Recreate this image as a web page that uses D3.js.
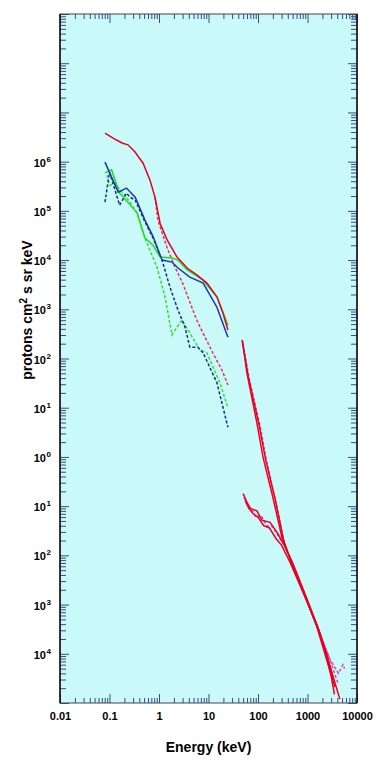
<!DOCTYPE html>
<html>
<head>
<meta charset="utf-8">
<script src="https://cdn.jsdelivr.net/npm/d3@7"></script>
<style>
  body { margin: 0; background: #fff; }
  svg { display: block; font-family: 'Liberation Sans', Arial, sans-serif; }
</style>
</head>
<body>
<svg width="382" height="768"></svg>
<script>
// axis ticks
let xTickValues = [0.01, 0.1, 1, 10, 100, 1000, 10000]
let xTickLabels = ['0.01', '0.1', '1', '10', '100', '1000', '10000']
let yLabelExponents = [6, 5, 4, 3, 2, 1, 0, -1, -2, -3, -4]

// low energy spectra (keV, flux)
let redSolidE = [0.081, 0.118, 0.179, 0.236, 0.328, 0.477, 0.658, 0.83, 1.05, 1.45, 2.31, 3.7, 5.8, 9.3, 14.9, 19.6, 24.7]
let redSolidV = [3.8e6, 3.0e6, 2.4e6, 2.2e6, 1.57e6, 9.3e5, 4.2e5, 1.9e5, 5.6e4, 2.6e4, 1.15e4, 6.9e3, 5.0e3, 3.4e3, 1.77e3, 840, 380]
let redDashE = [0.83, 0.95, 1.45, 2.1, 3.0, 4.2, 5.8, 8.5, 12.3, 18.7, 24.7]
let redDashV = [1.9e5, 6.5e4, 1.8e4, 7.2e3, 3.4e3, 1.4e3, 600, 272, 129, 58, 29]
let blueSolidE = [0.081, 0.15, 0.22, 0.33, 0.52, 0.76, 1.15, 1.83, 2.42, 4.2, 7.8, 14.8, 24.7]
let blueSolidV = [9.8e5, 2.4e5, 2.9e5, 1.9e5, 6.5e4, 3.0e4, 1.0e4, 9.1e3, 6.9e3, 4.5e3, 3.4e3, 1.1e3, 270]
let blueDashE = [0.081, 0.10, 0.16, 0.22, 0.26, 0.33, 0.52, 0.76, 1.15, 1.67, 2.42, 3.35, 4.2, 6.1, 7.8, 14.8, 24.7]
let blueDashV = [1.5e5, 6.1e5, 1.3e5, 2.3e5, 1.9e5, 1.65e5, 6.0e4, 2.8e4, 1.0e4, 2.8e3, 960, 435, 170, 170, 130, 32, 4.0]
let greenSolidE = [0.081, 0.11, 0.16, 0.236, 0.36, 0.52, 0.76, 1.05, 1.83, 2.42, 3.7, 7.8, 14.8, 24.7]
let greenSolidV = [5.9e5, 6.8e5, 2.3e5, 1.5e5, 9.1e4, 2.8e4, 2.0e4, 1.15e4, 1.1e4, 1.0e4, 6.3e3, 3.9e3, 1.77e3, 480]
let greenDashE = [0.089, 0.10, 0.129, 0.26, 0.36, 0.52, 0.91, 1.32, 1.83, 2.3, 2.9, 4.2, 6.7, 9.3, 17, 24.7]
let greenDashV = [5.3e5, 3.3e5, 3.6e5, 1.5e5, 9.1e4, 2.8e4, 7.2e3, 1.8e3, 300, 430, 600, 330, 148, 130, 32, 10]

// high energy spectra (keV, flux)
let hiRed1E = [48, 60, 95, 126, 200, 305, 486, 977, 1550, 2460, 3590]
let hiRed1V = [240, 50, 4.9, 1.0, 0.15, 0.023, 0.0069, 0.0012, 3.5e-4, 7.4e-5, 2.1e-5]
let hiRed2E = [48, 63, 105, 142, 225, 330, 500, 1000, 1700, 2800, 4500]
let hiRed2V = [230, 45, 4.5, 0.9, 0.13, 0.02, 0.006, 0.0011, 3.0e-4, 6.0e-5, 1.2e-5]
let hiPinkE = [50, 66, 112, 150, 235, 340, 520, 1050, 1800, 3000, 4200]
let hiPinkV = [200, 40, 4.0, 0.8, 0.11, 0.018, 0.0058, 0.001, 2.6e-4, 6.5e-5, 2.4e-5]
let loRed1E = [50, 60, 70, 95, 120, 175, 250, 320, 490, 980, 1600, 2500, 3300]
let loRed1V = [0.18, 0.12, 0.09, 0.08, 0.052, 0.047, 0.028, 0.018, 0.0075, 0.0013, 3.6e-4, 9.0e-5, 3.0e-5]
let loRed2E = [55, 65, 80, 100, 130, 170, 230, 300, 450, 900, 1500, 2200, 3000, 3500]
let loRed2V = [0.13, 0.09, 0.07, 0.06, 0.04, 0.036, 0.022, 0.016, 0.007, 0.0014, 4.0e-4, 1.3e-4, 3.5e-5, 1.5e-5]
let loPinkE = [52, 62, 75, 90, 115, 150, 200, 260, 340, 500, 1000, 1800, 2800, 4200, 5200, 5600]
let loPinkV = [0.15, 0.10, 0.085, 0.06, 0.065, 0.04, 0.038, 0.024, 0.016, 0.0065, 0.0011, 2.5e-4, 8.0e-5, 4.0e-5, 6.0e-5, 5.0e-5]

let series = [
  { e: greenDashE, v: greenDashV, color: '#2ee02e', dash: '3,2' },
  { e: blueDashE, v: blueDashV, color: '#14307e', dash: '3,2' },
  { e: redDashE, v: redDashV, color: '#e83062', dash: '3,2' },
  { e: greenSolidE, v: greenSolidV, color: '#22dd22', dash: null },
  { e: blueSolidE, v: blueSolidV, color: '#1c38b0', dash: null },
  { e: redSolidE, v: redSolidV, color: '#e8001e', dash: null },
  { e: hiPinkE, v: hiPinkV, color: '#e040b0', dash: '3,2' },
  { e: loPinkE, v: loPinkV, color: '#e040b0', dash: '3,2' },
  { e: hiRed1E, v: hiRed1V, color: '#e8001e', dash: null },
  { e: hiRed2E, v: hiRed2V, color: '#e8001e', dash: null },
  { e: loRed1E, v: loRed1V, color: '#e8001e', dash: null },
  { e: loRed2E, v: loRed2V, color: '#e8001e', dash: null }
]

drawChart()

function drawChart() {
  let margin = { top: 14, right: 25, bottom: 65, left: 60 }
  let width = 382
  let height = 768

  let x = d3.scaleLog()
    .domain([0.01, 10000])
    .range([margin.left, width - margin.right])

  let y = d3.scaleLog()
    .domain([1e-5, 1e9])
    .range([height - margin.bottom, margin.top])

  const svg = d3.select('svg')

  // plot background
  svg.append('rect')
    .attr('x', margin.left)
    .attr('y', margin.top)
    .attr('width', width - margin.left - margin.right)
    .attr('height', height - margin.top - margin.bottom)
    .attr('fill', '#c9f9f9')

  // minor ticks for every decade
  let xMinor = []
  for (let p = -2; p < 4; p++) for (let m = 2; m < 10; m++) xMinor.push(m * Math.pow(10, p))
  let yMinor = []
  for (let p = -5; p < 9; p++) for (let m = 2; m < 10; m++) yMinor.push(m * Math.pow(10, p))
  let yMajor = d3.range(-5, 10).map(p => Math.pow(10, p))

  let plotW = width - margin.left - margin.right
  let plotH = height - margin.top - margin.bottom

  let tickStyle = g => g.call(g => g.select('.domain').remove())
    .selectAll('line').attr('stroke', '#3a4a8c').attr('stroke-width', 1)

  // bottom + top
  svg.append('g')
    .attr('transform', `translate(0,${height - margin.bottom})`)
    .call(d3.axisBottom(x).tickValues(xMinor).tickSize(-5).tickFormat(''))
    .call(tickStyle)
  svg.append('g')
    .attr('transform', `translate(0,${margin.top})`)
    .call(d3.axisTop(x).tickValues(xMinor).tickSize(-5).tickFormat(''))
    .call(tickStyle)
  svg.append('g')
    .attr('transform', `translate(0,${margin.top})`)
    .call(d3.axisTop(x).tickValues(xTickValues).tickSize(-9).tickFormat(''))
    .call(tickStyle)

  let xAxis = svg.append('g')
    .attr('transform', `translate(0,${height - margin.bottom})`)
    .call(d3.axisBottom(x).tickValues(xTickValues).tickSize(-9).tickPadding(9)
      .tickFormat((d, i) => xTickLabels[i]))
  xAxis.call(tickStyle)
  xAxis.selectAll('text')
    .attr('fill', '#000')
    .style('font-size', '11px')
    .style('font-weight', 'bold')

  // left + right
  svg.append('g')
    .attr('transform', `translate(${margin.left},0)`)
    .call(d3.axisLeft(y).tickValues(yMinor).tickSize(-6).tickFormat(''))
    .call(tickStyle)
  svg.append('g')
    .attr('transform', `translate(${width - margin.right},0)`)
    .call(d3.axisRight(y).tickValues(yMinor).tickSize(-6).tickFormat(''))
    .call(tickStyle)
  svg.append('g')
    .attr('transform', `translate(${width - margin.right},0)`)
    .call(d3.axisRight(y).tickValues(yMajor).tickSize(-9).tickFormat(''))
    .call(tickStyle)
  svg.append('g')
    .attr('transform', `translate(${margin.left},0)`)
    .call(d3.axisLeft(y).tickValues(yMajor).tickSize(-9).tickFormat(''))
    .call(tickStyle)

  // y labels 10^n (exponent drawn the way the source shows it)
  let yLabels = svg.append('g')
    .attr('font-size', 11)
    .attr('font-weight', 'bold')
    .attr('text-anchor', 'end')
    .selectAll('text')
    .data(yLabelExponents)
    .enter()
    .append('text')
    .attr('x', margin.left - 14)
    .attr('y', d => y(Math.pow(10, d)) + 5)
  yLabels.append('tspan').text('10')
  yLabels.append('tspan')
    .attr('x', margin.left - 9)
    .attr('dy', -5)
    .attr('font-size', 8)
    .text(d => Math.abs(d))

  // frame
  svg.append('rect')
    .attr('x', margin.left)
    .attr('y', margin.top)
    .attr('width', plotW)
    .attr('height', plotH)
    .attr('fill', 'none')
    .attr('stroke', '#444')
    .attr('stroke-width', 1)
  svg.append('line')
    .attr('x1', margin.left).attr('x2', margin.left)
    .attr('y1', margin.top).attr('y2', height - margin.bottom)
    .attr('stroke', '#111').attr('stroke-width', 1.5)
  svg.append('line')
    .attr('x1', width - margin.right).attr('x2', width - margin.right)
    .attr('y1', margin.top).attr('y2', height - margin.bottom)
    .attr('stroke', '#111').attr('stroke-width', 1.5)

  // spectra
  let line = d3.line()
    .x(d => x(d[0]))
    .y(d => y(d[1]))

  svg.append('g')
    .attr('fill', 'none')
    .selectAll('path')
    .data(series)
    .enter()
    .append('path')
    .attr('d', s => line(s.e.map((e, i) => [e, s.v[i]])))
    .attr('stroke', s => s.color)
    .attr('stroke-width', 1.5)
    .attr('stroke-dasharray', s => s.dash)

  // titles
  svg.append('text')
    .attr('x', (margin.left + width - margin.right) / 2)
    .attr('y', 752)
    .attr('text-anchor', 'middle')
    .attr('font-size', 14)
    .attr('font-weight', 'bold')
    .text('Energy (keV)')

  let yTitle = svg.append('text')
    .attr('transform', 'translate(32,310) rotate(-90)')
    .attr('text-anchor', 'middle')
    .attr('font-size', 14)
    .attr('font-weight', 'bold')
  yTitle.append('tspan').text('protons cm')
  yTitle.append('tspan').attr('dy', -5).attr('font-size', 10).text('2')
  yTitle.append('tspan').attr('dy', 5).text(' s sr keV')
}
</script>
</body>
</html>
